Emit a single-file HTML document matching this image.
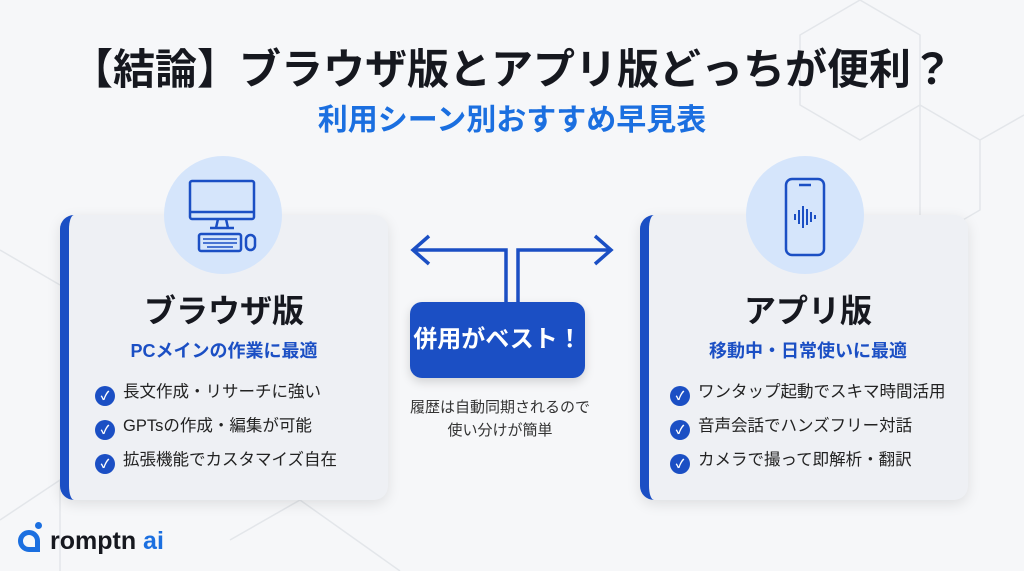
<!DOCTYPE html>
<html><head><meta charset="utf-8"><style>
*{margin:0;padding:0;box-sizing:border-box}
body{width:1024px;height:571px;overflow:hidden;background:#f6f7f9;font-family:"Liberation Sans","Noto Sans CJK JP",sans-serif;position:relative}
.a{position:absolute}
.card{position:absolute;top:215px;width:328px;height:285px;background:#eef0f4;border-radius:14px;border-left:9px solid #1b4fc4;box-shadow:0 4px 14px rgba(0,0,0,.10)}
.circ{position:absolute;width:118px;height:118px;border-radius:50%;background:#d5e5fb;top:156px}
.h{position:absolute;font-weight:bold;color:#16181f;font-size:32px;text-align:center;width:328px}
.s{position:absolute;font-weight:bold;color:#1b4fc4;font-size:18px;text-align:center;width:328px}
.li{position:absolute;font-size:16.5px;color:#222;white-space:nowrap}
.ck{display:inline-block;width:20px;height:20px;border-radius:50%;background:#1b4fc4;color:#fff;font-size:12px;text-align:center;line-height:20px;margin-right:8px;vertical-align:-3px;font-weight:bold}
</style></head><body>
<svg class="a" style="left:0;top:0" width="1024" height="571"><g stroke="#e3e6ea" fill="none" stroke-width="1.5"><path d="M860 0 L920 35 L920 105 L860 140 L800 105 L800 35Z M920 105 L980 140 L980 210 L920 245 L920 105 M980 140 L1024 115 M0 250 L60 285 M0 520 L60 480 L60 571 M230 540 L300 500 L400 571"/></g></svg>
<div class="a" style="left:0;top:41px;width:1024px;text-align:center;font-size:42px;font-weight:bold;color:#16181f;line-height:58px">【結論】ブラウザ版とアプリ版どっちが便利？</div>
<div class="a" style="left:0;top:101px;width:1024px;text-align:center;font-size:30px;font-weight:bold;color:#1b6fe0;line-height:40px">利用シーン別おすすめ早見表</div>

<div class="card" style="left:60px"></div>
<div class="circ" style="left:164px"></div>
<svg class="a" style="left:185px;top:178px" width="80" height="80" fill="none" stroke="#1b4fc4" stroke-width="2.5"><rect x="5" y="3" width="64" height="38" rx="2"/><line x1="5" y1="34" x2="69" y2="34"/><path d="M33 41 L31 50 M41 41 L43 50 M25 50 H49"/><rect x="14" y="56" width="42" height="17" rx="2"/><path d="M18 61h34M18 65h34M22 69h26" stroke-width="1.5"/><rect x="61" y="57" width="9" height="15" rx="4.5"/></svg>
<div class="h" style="left:60px;top:286px">ブラウザ版</div>
<div class="s" style="left:60px;top:337px">PCメインの作業に最適</div>
<div class="li" style="left:95px;top:378px"><span class="ck">✓</span>長文作成・リサーチに強い</div>
<div class="li" style="left:95px;top:412px"><span class="ck">✓</span>GPTsの作成・編集が可能</div>
<div class="li" style="left:95px;top:446px"><span class="ck">✓</span>拡張機能でカスタマイズ自在</div>

<div class="card" style="left:640px"></div>
<div class="circ" style="left:746px"></div>
<svg class="a" style="left:780px;top:176px" width="50" height="82" fill="none" stroke="#1b4fc4" stroke-width="2.5"><rect x="6" y="3" width="38" height="76" rx="6"/><line x1="19" y1="9" x2="31" y2="9"/><g stroke-width="2"><path d="M11 41v0M15 38v6M19 34v14M23 30v22M27 33v16M31 36v10M35 39v4M39 41v0"/></g></svg>
<div class="h" style="left:644px;top:286px">アプリ版</div>
<div class="s" style="left:644px;top:337px">移動中・日常使いに最適</div>
<div class="li" style="left:670px;top:378px"><span class="ck">✓</span>ワンタップ起動でスキマ時間活用</div>
<div class="li" style="left:670px;top:412px"><span class="ck">✓</span>音声会話でハンズフリー対話</div>
<div class="li" style="left:670px;top:446px"><span class="ck">✓</span>カメラで撮って即解析・翻訳</div>

<svg class="a" style="left:405px;top:230px" width="215" height="75" fill="none" stroke="#1b4fc4" stroke-width="3.5" stroke-linejoin="miter"><path d="M101 72 V20 H8 M113 72 V20 H206"/><path d="M24 6 L8 20 L24 34 M190 6 L206 20 L190 34"/></svg>
<div class="a" style="left:410px;top:302px;width:175px;height:76px;background:#1b4fc4;border-radius:12px;color:#fff;font-size:24px;font-weight:bold;text-align:center;line-height:76px;box-shadow:0 4px 10px rgba(0,0,0,.15)">併用がベスト！</div>
<div class="a" style="left:395px;top:396px;width:210px;text-align:center;font-size:15px;color:#333;line-height:23px">履歴は自動同期されるので<br>使い分けが簡単</div>

<div class="a" style="left:18px;top:522px;width:24px;height:30px"><div class="a" style="left:0;top:8px;width:22px;height:22px;border:5px solid #1b6fe0;border-radius:11px 11px 0 11px;border-bottom-right-radius:0"></div><div class="a" style="left:17px;top:0;width:7px;height:7px;border-radius:50%;background:#1b6fe0"></div></div>
<div class="a" style="left:50px;top:526px;font-size:25px;font-weight:bold;color:#16181f;line-height:30px">romptn <span style="color:#1b6fe0">ai</span></div>
</body></html>
